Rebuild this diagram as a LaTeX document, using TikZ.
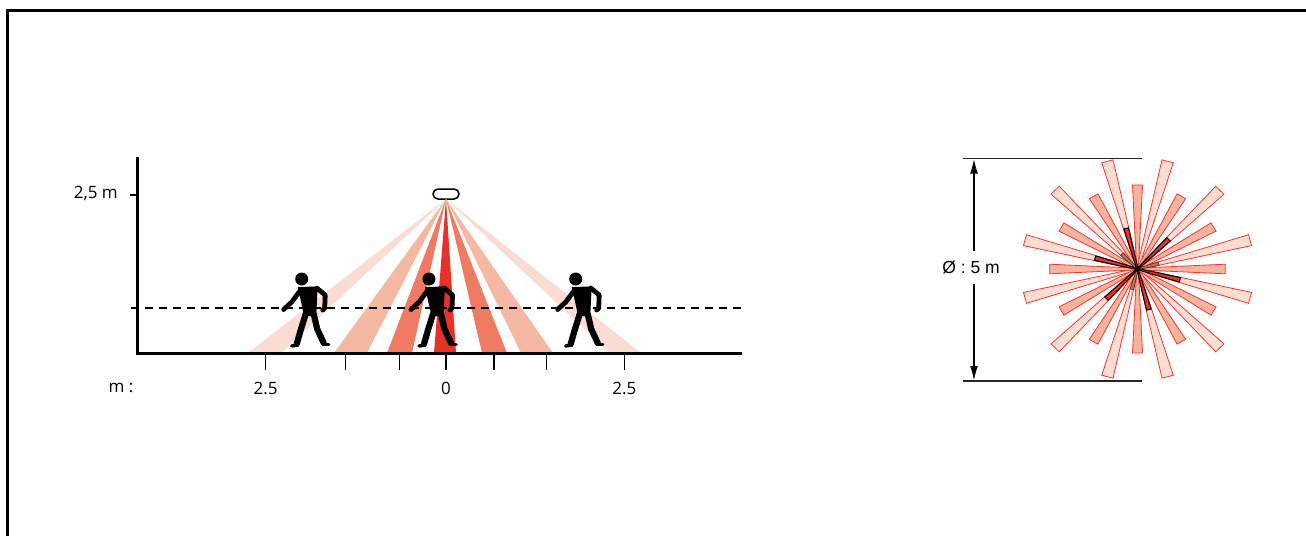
\documentclass[tikz,border=0pt]{standalone}
\usepackage{fontspec}
\setmainfont{Open Sans}
\newfontfamily\dimfont{Liberation Sans}
\usetikzlibrary{arrows.meta}

\definecolor{beamA}{HTML}{FADCD2}
\definecolor{beamB}{HTML}{F5B8A2}
\definecolor{beamC}{HTML}{EF7C62}
\definecolor{beamD}{HTML}{E6332A}
\definecolor{rayedge}{HTML}{E8392F}
\definecolor{rayA}{HTML}{FCDDD3}
\definecolor{rayB}{HTML}{F6B39F}
\definecolor{rayC}{HTML}{E2352C}
\definecolor{rayD}{HTML}{D8694A}

\tikzset{
  limb/.style={line cap=round, line join=round},
  walker/.pic={
    \fill (0,0) circle (6.5);
    \fill (-4,8) -- (16,7.5) -- (14.5,37) -- (2.5,37) -- cycle;
    \draw[limb, line width=4.8] (-1,11) -- (-10,23) -- (-18,30.5);
    \draw[limb, line width=4.8] (15,9) -- (23.5,16) -- (23,29) -- (21,31);
    \draw[limb, line width=6.2] (4,35) -- (-1,51) -- (-5,65);
    \draw[limb, line width=3.5] (-4,66) -- (-10,67);
    \draw[limb, line width=6.2] (12,35) -- (15.5,50) -- (22,64);
    \draw[limb, line width=3.5] (22,65.5) -- (27,65.5);
  },
  axis/.style={line width=3, line join=miter},
  tick/.style={line width=1.5},
  lbl/.style={inner sep=0, font=\fontsize{17}{19}\selectfont},
  sensor/.style={draw, line width=1.5, fill=white, rounded corners=5,
    minimum width=26, minimum height=10, inner sep=0},
  ray/.style={draw=rayedge, line width=0.8, line join=miter},
  darkray/.style={draw=black, line width=1, fill=rayC},
  dimline/.style={line width=1.2, draw=black!85},
  dimarrow/.style={line width=2, -{Latex[length=15,width=8]}},
  dimlabel/.style={inner sep=0, minimum height=33,
    font=\dimfont\fontsize{17.5}{19}\selectfont},
}

\begin{document}
\begin{tikzpicture}[x=1pt, y=-1pt]
\useasboundingbox (0,0) rectangle (1306,536);

% outer frame
\draw[line width=2.2] (7.5,536) -- (7.5,10.5) -- (1306,10.5);

% ---------------- side view ----------------
\node[sensor] (sensor) at (446,194) {};
\coordinate (apex) at (446,199);

% detection beams
\foreach \l/\r/\c in {248/281/beamA, 610/641/beamA,
                      334/367/beamB, 521/553/beamB,
                      387/412/beamC, 482/507/beamC,
                      434/456/beamD}
  \fill[\c] (apex) -- (\l,353) -- (\r,353) -- cycle;

% reference height line
\coordinate (dashL) at (131,308);
\coordinate (dashR) at (742,308);
\draw[line width=1.4, dash pattern=on 8 off 6] (dashL) -- (dashR);

% walking people
\pic at (301.7,279) {walker};
\pic at (429,279) {walker};
\pic at (575.7,279) {walker};

% axes
\coordinate (ytop) at (137,157);
\coordinate (orig) at (137,353);
\coordinate (xend) at (742,353);
\draw[axis] (ytop) -- (orig) -- (xend);

\coordinate (hT) at (130,195);
\coordinate (hA) at (137,195);
\draw[tick] (hT) -- (hA);
\node[lbl, anchor=east] (hlbl) at (118,193.5) {2,5 m};

\foreach \x [count=\i] in {265.7,345.7,399.3,446,494,546.7,624.3} {
  \coordinate (tk\i a) at (\x,353);
  \coordinate (tk\i b) at (\x,370);
  \draw[tick] (tk\i a) -- (tk\i b);
}
\node[lbl] (munit) at (121,388) {m :};
\node[lbl] (xl) at (265.7,388) {2.5};
\node[lbl] (x0) at (446,388) {0};
\node[lbl] (xr) at (624.3,388) {2.5};

% ---------------- top view ----------------
\coordinate (star) at (1137.5,269);
\begin{scope}[shift={(star)}, yscale=-1, xscale=1.045]
  \foreach \a in {15,45,...,345}
    \filldraw[ray, fill=rayA, rotate=\a] (0,-0.8) -- (111.5,-5.6) -- (111.5,5.6) -- (0,0.8) -- cycle;
  \foreach \a in {0,30,...,330}
    \filldraw[ray, fill=rayB, rotate=\a] (0,-0.8) -- (84,-4.8) -- (84,4.8) -- (0,0.8) -- cycle;
  \foreach \a in {105,225,345}
    \filldraw[draw=black!80, line width=0.6, fill=rayD, rotate=\a] (0,-0.6) -- (21,-1.8) -- (21,1.8) -- (0,0.6) -- cycle;
  \foreach \a in {15,75,...,315}
    \filldraw[darkray, rotate=\a] (0,-0.6) -- (42,-2.3) -- (42,2.3) -- (0,0.6) -- cycle;
\end{scope}

% diameter dimension
\coordinate (tl) at (963,158.5);
\coordinate (tr) at (1141.5,158.5);
\coordinate (bl) at (963,381);
\coordinate (br) at (1141.5,381);
\draw[dimline] (tl) -- (tr);
\draw[dimline] (bl) -- (br);
\coordinate (atop) at (974,158.5);
\coordinate (abot) at (974,381);
\node[dimlabel] (dia) at (971,267.5) {Ø : 5 m};
\draw[dimarrow] (dia.north -| atop) -- (atop);
\draw[dimarrow] (dia.south -| abot) -- (abot);
\end{tikzpicture}
\end{document}
